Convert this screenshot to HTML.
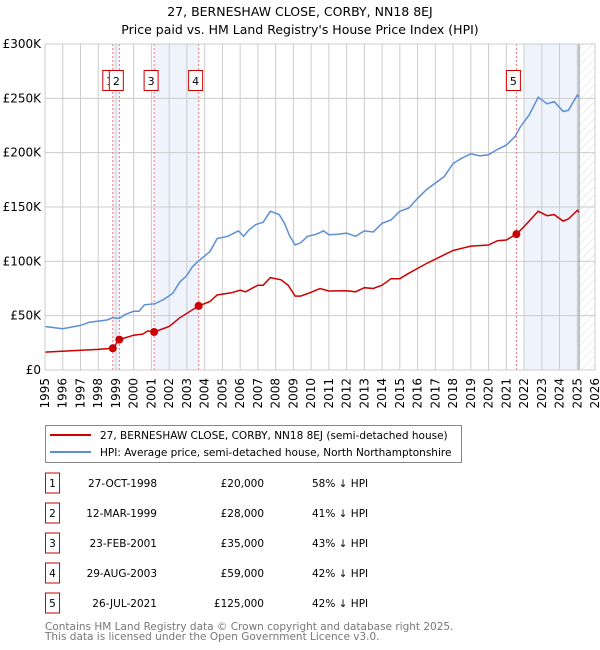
<!DOCTYPE html>
<html><head><meta charset="utf-8"><style>
body{margin:0;background:#fff;font-family:"Liberation Sans","DejaVu Sans",sans-serif;}
svg{display:block}
</style></head><body>
<svg id="chart" width="600" height="650" xmlns="http://www.w3.org/2000/svg" font-family="DejaVu Sans, Liberation Sans, sans-serif">
<defs><pattern id="hatch" width="6" height="6" patternUnits="userSpaceOnUse" patternTransform="rotate(45)"><line x1="0" y1="0" x2="0" y2="6" stroke="#ccc" stroke-width="0.7"/></pattern></defs>
<text x="300" y="16" text-anchor="middle" font-size="12.5">27, BERNESHAW CLOSE, CORBY, NN18 8EJ</text>
<text x="300" y="34" text-anchor="middle" font-size="12.5">Price paid vs. HM Land Registry's House Price Index (HPI)</text>
<g id="plot"></g>
<g>
<rect x="45.5" y="425.5" width="416" height="37" fill="#fff" stroke="#888"/>
<line x1="50" y1="435" x2="91" y2="435" stroke="#cc0000" stroke-width="2"/>
<text x="100" y="439" font-size="10.5">27, BERNESHAW CLOSE, CORBY, NN18 8EJ (semi-detached house)</text>
<line x1="50" y1="452" x2="91" y2="452" stroke="#5b8ed6" stroke-width="2"/>
<text x="100" y="456" font-size="10.5">HPI: Average price, semi-detached house, North Northamptonshire</text>
</g>
<g id="table" font-size="10.5"></g>
<text x="45" y="630" font-size="10.5" fill="#777">Contains HM Land Registry data © Crown copyright and database right 2025.</text>
<text x="45" y="640" font-size="10.5" fill="#777">This data is licensed under the Open Government Licence v3.0.</text>
</svg>
<script>
const hpiYears=[1995,1996,1997,1997.5,1998.5,1998.8,1999.2,1999.5,2000,2000.3,2000.6,2001.2,2001.7,2002.2,2002.6,2003,2003.3,2003.7,2004.3,2004.7,2005.3,2005.9,2006.2,2006.5,2006.9,2007.3,2007.7,2008.2,2008.5,2008.8,2009.1,2009.4,2009.8,2010.3,2010.7,2011,2011.5,2012,2012.5,2013,2013.5,2014,2014.5,2015,2015.5,2016,2016.5,2017,2017.5,2018,2018.5,2019,2019.5,2020,2020.5,2021,2021.5,2021.8,2022.3,2022.8,2023.3,2023.7,2024.2,2024.5,2025,2025.1];
const hpiValues=[40,38,41,44,46,48,47.5,51,54,54,60,61,65,70.5,81,87,95,101,109,121,123,128,123,129,134,136,146,143,135,123,115,117,123,125,128,124.5,125,126,123,128,127,135,138,146,149,158,166,172,178,190,195,199,197,198,203,207,215,224,235,251,245,247,238,239,253,251];
const priceYears=[1995,1998,1998.82,1999.19,2000,2000.5,2000.8,2001.15,2002,2002.6,2003.66,2004.3,2004.7,2005.5,2006,2006.3,2007,2007.3,2007.7,2008.3,2008.7,2009.1,2009.4,2010,2010.5,2011,2012,2012.5,2013,2013.5,2014,2014.5,2015,2015.5,2016,2016.5,2017,2017.5,2018,2018.5,2019,2020,2020.5,2021,2021.57,2022,2022.8,2023.3,2023.7,2024.2,2024.5,2025,2025.1];
const priceValues=[16.5,19,20,28,32,33,36,35,40,48,59,63,69,71,73.5,72,78,78,85,83,78,68,68,71.5,75,72.7,73,72,75.7,75,78,84,84,89,93.5,98,102,106,110,112,114,115,119,119.6,125,132,146,142,143,137,139,147,145];
const saleLabels=["1","2","3","4","5"];
const saleYears=[1998.82,1999.19,2001.15,2003.66,2021.57];
const salePrices=[20,28,35,59,125];
const saleDates=["27-OCT-1998","12-MAR-1999","23-FEB-2001","29-AUG-2003","26-JUL-2021"];
const salePriceText=["£20,000","£28,000","£35,000","£59,000","£125,000"];
const saleHpiText=["58% ↓ HPI","41% ↓ HPI","43% ↓ HPI","42% ↓ HPI","42% ↓ HPI"];
const yTicks=[0,50,100,150,200,250,300];
const yTickLabels=["£0","£50K","£100K","£150K","£200K","£250K","£300K"];
const xStart=1995,xEnd=2026,dataEnd=2025.1;

const NS="http://www.w3.org/2000/svg";
const L=45,R=595,T=44,B=370;
const xs=y=>L+(y-xStart)/(xEnd-xStart)*(R-L);
const ys=v=>B-v/300*(B-T);
const plot=document.getElementById('plot');
function mk(tag,attrs,parent){const e=document.createElementNS(NS,tag);for(const k in attrs)e.setAttribute(k,attrs[k]);(parent||plot).appendChild(e);return e;}

[[saleYears[0],saleYears[1]],[saleYears[2],saleYears[3]],[2022,dataEnd]].forEach((b,i)=>{
 const r=mk('rect',{x:xs(b[0]),y:T,width:xs(b[1])-xs(b[0]),height:B-T,fill:'#eef3fc'});
 
 
});
const h=mk('rect',{x:xs(dataEnd),y:T,width:R-xs(dataEnd),height:B-T,fill:'url(#hatch)'});


for(let yr=xStart;yr<=xEnd;yr++){
 const g=mk('line',{x1:xs(yr),x2:xs(yr),y1:T,y2:B,stroke:'#ccc','stroke-width':1});
 
 
 const t=mk('text',{x:0,y:0,'font-size':12,'text-anchor':'end',transform:`translate(${xs(yr)+4},${B+8}) rotate(-90)`});
 t.textContent=yr;
 
 
}
yTicks.forEach((v,i)=>{
 const g=mk('line',{x1:L,x2:R,y1:ys(v),y2:ys(v),stroke:'#ccc','stroke-width':1});
 
 
 const t=mk('text',{x:L-4,y:ys(v)+4,'font-size':12,'text-anchor':'end'});
 t.textContent=yTickLabels[i];
 
 
});
const eb=mk('line',{x1:xs(dataEnd),x2:xs(dataEnd),y1:T,y2:B,stroke:'#888','stroke-width':1});


saleYears.forEach(y=>{
 const l=mk('line',{x1:xs(y),x2:xs(y),y1:T,y2:B,stroke:'#ee7777','stroke-width':1,'stroke-dasharray':'2,2'});
 
 
});
function path(xa,va){return xa.map((x,i)=>(i?'L':'M')+xs(x).toFixed(1)+','+ys(va[i]).toFixed(1)).join('');}
const hp=mk('path',{d:path(hpiYears,hpiValues),fill:'none',stroke:'#5b8ed6','stroke-width':1.5});


const pp=mk('path',{d:path(priceYears,priceValues),fill:'none',stroke:'#cc0000','stroke-width':1.5});


saleYears.forEach((y,i)=>{
 const c=mk('circle',{cx:xs(y),cy:ys(salePrices[i]),r:4,fill:'#cc0000'});
 
 
 const bx=xs(y)-10;
 const g=mk('g',{});
 
 
 mk('rect',{x:bx,y:70.5,width:14,height:20,fill:'#fff',stroke:'#cc0000'},g);
 const t=mk('text',{x:bx+7,y:85,'font-size':11,'text-anchor':'middle'},g);
 t.textContent=saleLabels[i];
});
mk('rect',{x:L,y:T,width:R-L,height:B-T,fill:'none',stroke:'#ccc'});
const tb=document.getElementById('table');
saleLabels.forEach((s,i)=>{
 const cy=483+i*30;
 const row=mk('g',{},tb);
 
 
 mk('rect',{x:45.5,y:cy-10,width:14,height:20,fill:'#fff',stroke:'#cc0000'},row);
 const n=mk('text',{x:52.5,y:cy+4,'text-anchor':'middle'},row);n.textContent=s;
 const d=mk('text',{x:157,y:cy+4,'text-anchor':'end'},row);d.textContent=saleDates[i];
 const p=mk('text',{x:264,y:cy+4,'text-anchor':'end'},row);p.textContent=salePriceText[i];
 const hh=mk('text',{x:312,y:cy+4},row);hh.textContent=saleHpiText[i];
});
</script>
</body></html>
